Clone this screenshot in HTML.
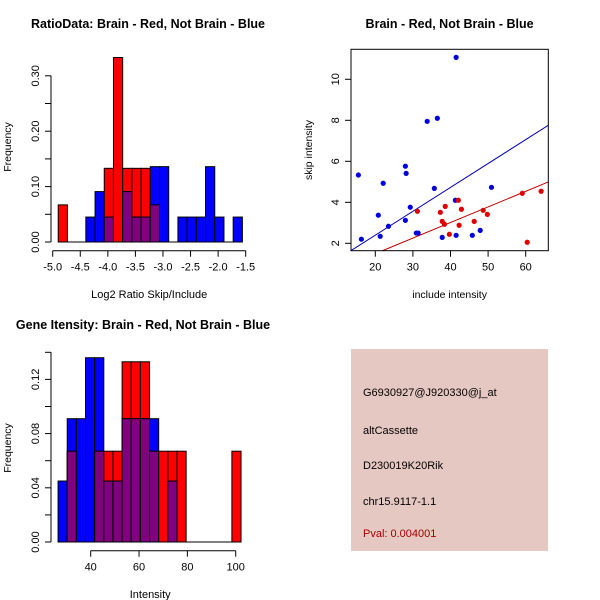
<!DOCTYPE html>
<html><head><meta charset="utf-8"><style>
html,body{margin:0;padding:0;background:#fff;}
svg{display:block;font-family:"Liberation Sans",sans-serif;}
</style></head><body>
<svg id="c" width="600" height="600" viewBox="0 0 600 600">
<rect width="600" height="600" fill="#fff"/>
<g id="g1"></g>
<g id="g2"></g>
<g id="g3"></g>
<g id="g4">
<rect x="351" y="349" width="197" height="202" fill="#e6c8c2"/>
<text x="363" y="396" font-size="11" fill="#000">G6930927@J920330@j_at</text>
<text x="363" y="434" font-size="11" fill="#000">altCassette</text>
<text x="363" y="469" font-size="11" fill="#000">D230019K20Rik</text>
<text x="363" y="505" font-size="11" fill="#000">chr15.9117-1.1</text>
<text x="363" y="537" font-size="11" fill="#a00000">Pval: 0.004001</text>
</g>
</svg>
<script>
// Histogram 1: Log2 ratio
const ratioBinStart = -4.9;
const ratioBinWidth = 0.167;
const ratioRed = [0.067,0,0,0,0,0.133,0.333,0.133,0.133,0.133,0.067,0,0,0,0,0,0,0,0,0];
const ratioBlue = [0,0,0,0.045,0.091,0.045,0,0.091,0.045,0.045,0.136,0.136,0,0.045,0.045,0.045,0.136,0.045,0,0.045];
const ratioXTicks = [-5.0,-4.5,-4.0,-3.5,-3.0,-2.5,-2.0,-1.5];
const ratioYTicks = [0,0.05,0.10,0.15,0.20,0.25,0.30];
const ratioYLabels = ["0.00","","0.10","","0.20","","0.30"];
// Histogram 2: Intensity
const intBinStart = 26.5;
const intBinWidth = 3.785;
const intRed = [0,0.067,0,0,0.067,0.067,0.067,0.133,0.133,0.133,0.067,0.067,0.067,0.067,0,0,0,0,0,0.067];
const intBlue = [0.045,0.091,0.091,0.136,0.136,0.045,0.045,0.091,0.091,0.091,0.091,0,0.045,0,0,0,0,0,0,0];
const intXTicks = [40,60,80,100];
const intYTicks = [0,0.02,0.04,0.06,0.08,0.10,0.12,0.14];
const intYLabels = ["0.00","","0.04","","0.08","","0.12",""];
// Scatter
const blueX = [15.5,16.3,20.8,21.3,22.1,23.5,28.0,28.2,28.0,29.3,30.9,31.4,33.8,36.5,35.7,37.8,41.5,41.3,41.5,45.8,47.9,50.9];
const blueY = [5.33,2.2,3.37,2.34,4.93,2.83,5.76,5.41,3.12,3.76,2.5,2.5,7.95,8.1,4.68,2.29,11.07,4.1,2.39,2.39,2.63,4.73];
const redX = [31.2,37.3,38.6,37.8,38.4,39.7,42.1,42.3,42.9,46.3,48.7,49.8,59.1,60.4,64.1];
const redY = [3.56,3.51,3.8,3.07,2.93,2.44,4.1,2.88,3.66,3.07,3.61,3.41,4.44,2.05,4.54];
const blueFit = [0.067,0.1165];
const redFit = [-0.03,0.0761];
const scXTicks = [20,30,40,50,60];
const scYTicks = [2,4,6,8,10];

const NS="http://www.w3.org/2000/svg";
function mk(p,tag,a){const e=document.createElementNS(NS,tag);for(const k in a)e.setAttribute(k,a[k]);p.appendChild(e);return e;}
function txt(p,x,y,s,o){const e=mk(p,'text',Object.assign({x:x,y:y,'text-anchor':'middle','font-size':11,fill:'#000'},o||{}));e.textContent=s;return e;}

function hist(g,cfg){
  const sx=v=>cfg.x0+(v-cfg.xa)*cfg.kx, sy=v=>cfg.y0-v*cfg.ky;
  const n=cfg.red.length;
  for(let i=0;i<n;i++){
    const a=sx(cfg.start+i*cfg.w), b=sx(cfg.start+(i+1)*cfg.w);
    const r=cfg.red[i], bl=cfg.blue[i];
    const draw=(v,col,nm)=>{ if(v<=0) return; const e=mk(g,'rect',{x:a,y:sy(v),width:b-a,height:sy(0)-sy(v),fill:col,stroke:'#000','stroke-width':1});
      
      };
    if(r>=bl){draw(r,'#ff0000','red-bar');draw(bl,'#0000ff','blue-bar');}
    else{draw(bl,'#0000ff','blue-bar');draw(r,'#ff0000','red-bar');}
    draw(Math.min(r,bl),'#800080','overlap-bar');
  }
  // baseline (R's hist draws zero-height bins as line)
  const bl=mk(g,'line',{x1:sx(cfg.start),x2:sx(cfg.start+n*cfg.w),y1:sy(0),y2:sy(0),stroke:'#000'});
  
  // x axis
  const ax=mk(g,'g',{});
  const xt=cfg.xt;
  mk(ax,'line',{x1:sx(xt[0]),x2:sx(xt[xt.length-1]),y1:cfg.axY,y2:cfg.axY,stroke:'#000'});
  xt.forEach(v=>{mk(ax,'line',{x1:sx(v),x2:sx(v),y1:cfg.axY,y2:cfg.axY+6,stroke:'#000'});
    const t=txt(ax,sx(v),cfg.axY+20,cfg.xfmt(v));});
  const ay=mk(g,'g',{});
  const yt=cfg.yt;
  mk(ay,'line',{x1:cfg.axX,x2:cfg.axX,y1:sy(yt[0]),y2:sy(yt[yt.length-1]),stroke:'#000'});
  yt.forEach((v,i)=>{mk(ay,'line',{x1:cfg.axX,x2:cfg.axX-6,y1:sy(v),y2:sy(v),stroke:'#000'});
    if(cfg.yl[i]){const t=txt(ay,0,0,cfg.yl[i],{transform:`translate(${cfg.axX-12},${sy(v)}) rotate(-90)`});}});
  let t=txt(g,cfg.tx,cfg.ty,cfg.title,{'font-weight':'bold','font-size':12.5});
  t=txt(g,(cfg.x0+sx(xt[xt.length-1]))/2+cfg.xlOff,cfg.xlY,cfg.xlab);
  t=txt(g,0,0,'Frequency',{transform:`translate(11,${cfg.ylY}) rotate(-90)`,'font-size':10.5});
}
hist(document.getElementById('g1'),{start:ratioBinStart,w:ratioBinWidth,red:ratioRed,blue:ratioBlue,
  xa:-5.0,x0:52.7,kx:55.14,y0:242,ky:554,xt:ratioXTicks,yt:ratioYTicks,yl:ratioYLabels,axY:250.7,axX:51,
  xfmt:v=>v.toFixed(1),title:'RatioData: Brain - Red, Not Brain - Blue',tx:148,ty:28,xlab:'Log2 Ratio Skip/Include',xlY:298,xlOff:0,ylY:147});
hist(document.getElementById('g3'),{start:intBinStart,w:intBinWidth,red:intRed,blue:intBlue,
  xa:40,x0:90.7,kx:2.417,y0:542,ky:1355,xt:intXTicks,yt:intYTicks,yl:intYLabels,axY:550.7,axX:51,
  xfmt:v=>String(v),title:'Gene Itensity: Brain - Red, Not Brain - Blue',tx:143,ty:329,xlab:'Intensity',xlY:598,xlOff:-13,ylY:448});

// scatter
(function(){
  const g=document.getElementById('g2');
  const L=351,R=548.3,T=49.3,B=250.7;
  const sx=v=>375.3+(v-20)*3.76, sy=v=>243.3-(v-2)*20.5;
  const xmin=13.5,xmax=66.1;
  const cp=mk(g,'clipPath',{id:'clp'});mk(cp,'rect',{x:L,y:T,width:R-L,height:B-T});
  [[blueFit,'#0000b0','blue-fit-line'],[redFit,'#c00000','red-fit-line']].forEach(([f,c,n])=>{
    const l=mk(g,'line',{x1:sx(xmin),y1:sy(f[0]+f[1]*xmin),x2:sx(xmax),y2:sy(f[0]+f[1]*xmax),stroke:c,'stroke-width':1,'clip-path':'url(#clp)'});
    });
  blueX.forEach((x,i)=>{const c=mk(g,'circle',{cx:sx(x),cy:sy(blueY[i]),r:2.6,fill:'#0000dd'});
    });
  redX.forEach((x,i)=>{const c=mk(g,'circle',{cx:sx(x),cy:sy(redY[i]),r:2.6,fill:'#dd0000'});
    });
  const box=mk(g,'rect',{x:L,y:T,width:R-L,height:B-T,fill:'none',stroke:'#000'});
  
  scXTicks.forEach(v=>{mk(g,'line',{x1:sx(v),x2:sx(v),y1:B,y2:B+6,stroke:'#000'});
    const t=txt(g,sx(v),B+20,String(v));});
  scYTicks.forEach(v=>{mk(g,'line',{x1:L,x2:L-6,y1:sy(v),y2:sy(v),stroke:'#000'});
    const t=txt(g,0,0,String(v),{transform:`translate(${L-12},${sy(v)}) rotate(-90)`});});
  let t=txt(g,449.6,28,'Brain - Red, Not Brain - Blue',{'font-weight':'bold','font-size':12.5});
  t=txt(g,449.6,298,'include intensity',{'font-size':10.5});
  t=txt(g,0,0,'skip intensity',{transform:'translate(312,150) rotate(-90)','font-size':10.5});
})();
</script>
</body></html>
